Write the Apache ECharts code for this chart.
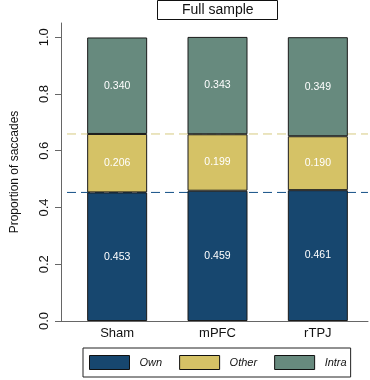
<!DOCTYPE html>
<html>
<head>
<meta charset="utf-8">
<script src="https://cdn.jsdelivr.net/npm/echarts@6/dist/echarts.min.js"></script>
<style>html,body{margin:0;padding:0;background:#fff}#c{width:370px;height:380px}</style>
</head>
<body>
<div id="c"></div>
<script>
var categories = ['Sham', 'mPFC', 'rTPJ'];
var own = [0.453, 0.459, 0.461];
var other = [0.206, 0.199, 0.190];
var intra = [0.340, 0.343, 0.349];
var yTicks = [0, 0.2, 0.4, 0.6, 0.8, 1.0];
var seriesNames = ['Own', 'Other', 'Intra'];
var colors = ['#17476f', '#d5c266', '#678a7e'];

var chart = echarts.init(document.getElementById('c'), null, {renderer: 'canvas'});
var font = 'Liberation Sans, Arial, Helvetica, sans-serif';

function mkSeries(name, data, color) {
  return {
    name: name,
    type: 'bar',
    stack: 'total',
    barWidth: 60,
    z: 3,
    xAxisIndex: 0,
    data: data,
    itemStyle: {color: color, borderColor: '#1a1a1a', borderWidth: 1},
    label: {
      show: true, position: 'inside', color: '#ffffff', fontSize: 10.5, fontFamily: font,
      formatter: function (p) { return p.value.toFixed(3); }
    },
    emphasis: {disabled: true}
  };
}

// horizontal reference line across the full plot width (hidden 0..1 x axis)
function refLine(name, val, color) {
  return {
    name: name, type: 'line', xAxisIndex: 1, z: 1, silent: true,
    symbol: 'none', showSymbol: false,
    data: [[0, val], [1, val]],
    lineStyle: {color: color, type: [9, 5], width: 1},
    itemStyle: {color: color},
    emphasis: {disabled: true}
  };
}

var option = {
  animation: false,
  backgroundColor: '#ffffff',
  title: {
    text: 'Full sample', left: 157, top: 0,
    borderColor: '#111', borderWidth: 1, backgroundColor: '#fff',
    padding: [3, 24, 3, 25],
    textStyle: {fontFamily: font, fontSize: 14, fontWeight: 'normal', color: '#111'}
  },
  grid: {left: 67, right: 2, top: 23, bottom: 59},
  legend: {
    data: seriesNames, left: 83, top: 348, icon: 'rect',
    borderColor: '#222', borderWidth: 1, padding: [7, 4, 7, 6],
    itemWidth: 40, itemHeight: 14, itemGap: 17,
    itemStyle: {borderColor: '#111', borderWidth: 1},
    textStyle: {fontFamily: font, fontSize: 11, fontStyle: 'italic', color: '#111', padding: [0, 0, 0, 5]},
    selectedMode: false
  },
  xAxis: [{
    type: 'category', data: categories,
    axisLine: {onZero: false, lineStyle: {color: '#666', width: 1}},
    axisTick: {show: false},
    axisLabel: {fontFamily: font, fontSize: 13, color: '#111', margin: 6}
  }, {
    type: 'value', min: 0, max: 1, show: false,
    axisLine: {show: false, onZero: false}, axisLabel: {show: false},
    axisTick: {show: false}, splitLine: {show: false}
  }],
  yAxis: {
    type: 'value', min: 0, max: 1.05, offset: 6,
    name: 'Proportion of saccades', nameLocation: 'middle', nameRotate: 90, nameGap: 40,
    nameTextStyle: {fontFamily: font, fontSize: 12, color: '#111'},
    axisLine: {show: true, onZero: false, lineStyle: {color: '#666', width: 1}},
    axisTick: {show: true, length: 6, lineStyle: {color: '#666'}, customValues: yTicks},
    axisLabel: {fontFamily: font, fontSize: 13, color: '#111', rotate: 90, margin: 10,
      customValues: yTicks, formatter: function (v) { return v.toFixed(1); }},
    splitLine: {show: false}
  },
  series: [
    refLine('refOwn', own[0], '#134f86'),
    refLine('refOther', +(own[0] + other[0]).toFixed(3), '#d6ca80'),
    mkSeries('Own', own, colors[0]),
    mkSeries('Other', other, colors[1]),
    mkSeries('Intra', intra, colors[2])
  ],
  graphic: [{
    type: 'line', shape: {x1: 61, y1: 321.5, x2: 67, y2: 321.5},
    style: {stroke: '#666', lineWidth: 1}, silent: true
  }]
};
chart.setOption(option);
</script>
</body>
</html>
